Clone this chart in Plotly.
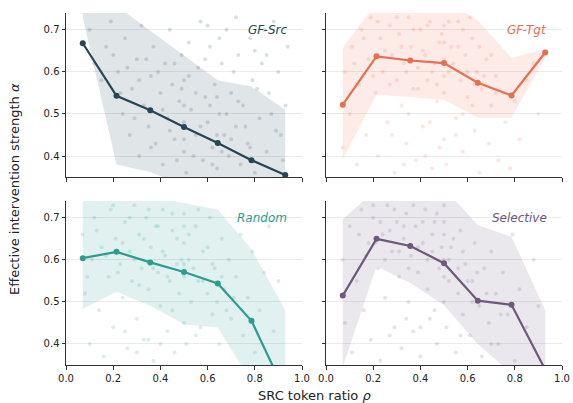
import plotly.graph_objects as go
from plotly.subplots import make_subplots

# ---------------- data ----------------
x_centers = [0.071, 0.214, 0.357, 0.5, 0.643, 0.786, 0.929]

methods = ["GF-Src", "GF-Tgt", "Random", "Selective"]
colors = ["#264653", "#e76f51", "#2a9d8f", "#6d597a"]

mean_gfsrc = [0.668, 0.543, 0.509, 0.469, 0.431, 0.390, 0.355]
hi_gfsrc = [0.80, 0.757, 0.698, 0.639, 0.580, 0.565, 0.510]
lo_gfsrc = [0.73, 0.380, 0.362, 0.330, 0.320, 0.300, 0.300]

mean_gftgt = [0.522, 0.637, 0.627, 0.621, 0.574, 0.544, 0.646]
hi_gftgt = [0.657, 0.765, 0.78, 0.77, 0.722, 0.633, 0.655]
lo_gftgt = [0.392, 0.546, 0.540, 0.534, 0.491, 0.491, 0.635]

mean_random = [0.604, 0.619, 0.594, 0.571, 0.544, 0.455, 0.285]
hi_random = [0.78, 0.78, 0.75, 0.735, 0.72, 0.625, 0.48]
lo_random = [0.483, 0.524, 0.491, 0.447, 0.439, 0.31, 0.25]

mean_selective = [0.515, 0.650, 0.633, 0.592, 0.503, 0.493, 0.339]
hi_selective = [0.696, 0.769, 0.80, 0.77, 0.683, 0.655, 0.48]
lo_selective = [0.345, 0.585, 0.545, 0.492, 0.40, 0.33, 0.30]

# background per-sample points
pts_gfsrc_x = [0.10, 0.12, 0.15, 0.17, 0.19, 0.22, 0.24, 0.25, 0.27, 0.28, 0.30, 0.31, 0.32, 0.33, 0.35, 0.36, 0.37, 0.38,
               0.40, 0.41, 0.42, 0.43, 0.44, 0.45, 0.46, 0.48, 0.49, 0.50, 0.50, 0.50, 0.51, 0.52, 0.53, 0.55, 0.56, 0.57,
               0.58, 0.59, 0.60, 0.61, 0.62, 0.63, 0.64, 0.65, 0.66, 0.67, 0.68, 0.69, 0.70, 0.72, 0.73, 0.74, 0.75, 0.77,
               0.78, 0.79, 0.80, 0.82, 0.83, 0.85, 0.86, 0.88, 0.89, 0.90, 0.92, 0.93, 0.94,
               0.20, 0.23, 0.26, 0.29, 0.31, 0.34, 0.36, 0.39, 0.41, 0.44, 0.46, 0.47, 0.49, 0.50, 0.50, 0.52, 0.54, 0.55,
               0.57, 0.59, 0.61, 0.62, 0.64, 0.64, 0.66, 0.68, 0.70, 0.71, 0.73, 0.76, 0.78, 0.81, 0.84, 0.87, 0.91, 0.60,
               0.65, 0.72, 0.80, 0.85]
pts_gfsrc_y = [0.70, 0.62, 0.58, 0.66, 0.72, 0.60, 0.50, 0.68, 0.45, 0.56, 0.63, 0.40, 0.71, 0.52, 0.47, 0.59, 0.66, 0.43,
               0.55, 0.38, 0.62, 0.49, 0.70, 0.57, 0.44, 0.53, 0.64, 0.41, 0.48, 0.58, 0.36, 0.67, 0.51, 0.45, 0.61, 0.72,
               0.39, 0.54, 0.48, 0.66, 0.42, 0.57, 0.37, 0.50, 0.62, 0.45, 0.70, 0.40, 0.55, 0.47, 0.64, 0.38, 0.52, 0.43,
               0.68, 0.58, 0.36, 0.49, 0.62, 0.41, 0.55, 0.72, 0.46, 0.60, 0.39, 0.52, 0.66,
               0.64, 0.55, 0.61, 0.49, 0.58, 0.63, 0.42, 0.60, 0.51, 0.46, 0.62, 0.39, 0.56, 0.44, 0.52, 0.59, 0.40, 0.55,
               0.47, 0.63, 0.52, 0.38, 0.45, 0.54, 0.41, 0.50, 0.44, 0.60, 0.53, 0.47, 0.42, 0.56, 0.70, 0.50, 0.45, 0.71,
               0.68, 0.73, 0.65, 0.64]

pts_gftgt_x = [0.07, 0.08, 0.10, 0.11, 0.13, 0.14, 0.15, 0.17, 0.18, 0.19, 0.21, 0.22, 0.23, 0.24, 0.26, 0.27, 0.28, 0.29,
               0.30, 0.31, 0.32, 0.33, 0.34, 0.35, 0.36, 0.37, 0.38, 0.39, 0.40, 0.41, 0.42, 0.43, 0.44, 0.45, 0.46, 0.47,
               0.48, 0.50, 0.50, 0.50, 0.50, 0.51, 0.52, 0.53, 0.55, 0.56, 0.57, 0.58, 0.59, 0.60, 0.62, 0.63, 0.64, 0.65,
               0.66, 0.68, 0.69, 0.70, 0.72, 0.73, 0.75, 0.76, 0.78, 0.80, 0.82, 0.85, 0.88, 0.90,
               0.12, 0.16, 0.20, 0.22, 0.25, 0.27, 0.30, 0.32, 0.34, 0.37, 0.39, 0.41, 0.43, 0.45, 0.47, 0.49, 0.50, 0.50,
               0.52, 0.54, 0.56, 0.58, 0.60, 0.61, 0.63, 0.65, 0.67, 0.70, 0.72, 0.28, 0.35, 0.42, 0.55, 0.62, 0.33, 0.44,
               0.48, 0.58]
pts_gftgt_y = [0.42, 0.60, 0.50, 0.66, 0.38, 0.57, 0.70, 0.45, 0.63, 0.73, 0.55, 0.40, 0.68, 0.60, 0.48, 0.71, 0.64, 0.36,
               0.58, 0.69, 0.52, 0.62, 0.43, 0.73, 0.66, 0.56, 0.39, 0.61, 0.70, 0.47, 0.64, 0.58, 0.72, 0.37, 0.62, 0.53,
               0.67, 0.44, 0.55, 0.63, 0.71, 0.38, 0.60, 0.66, 0.49, 0.72, 0.58, 0.41, 0.64, 0.54, 0.68, 0.46, 0.60, 0.36,
               0.56, 0.63, 0.43, 0.52, 0.59, 0.39, 0.55, 0.48, 0.37, 0.53, 0.44, 0.58, 0.62, 0.50,
               0.62, 0.68, 0.59, 0.72, 0.65, 0.57, 0.73, 0.66, 0.60, 0.70, 0.56, 0.65, 0.71, 0.60, 0.57, 0.69, 0.59, 0.67,
               0.72, 0.62, 0.66, 0.70, 0.60, 0.73, 0.57, 0.66, 0.59, 0.64, 0.55, 0.45, 0.50, 0.40, 0.45, 0.52, 0.38, 0.48,
               0.42, 0.50]

pts_random_x = [0.07, 0.08, 0.10, 0.11, 0.12, 0.14, 0.15, 0.16, 0.18, 0.19, 0.20, 0.21, 0.23, 0.24, 0.25, 0.26, 0.27, 0.28,
                0.29, 0.30, 0.31, 0.32, 0.33, 0.34, 0.35, 0.36, 0.37, 0.38, 0.39, 0.40, 0.41, 0.42, 0.43, 0.44, 0.45, 0.46,
                0.47, 0.48, 0.50, 0.50, 0.50, 0.50, 0.51, 0.52, 0.53, 0.55, 0.56, 0.57, 0.58, 0.60, 0.61, 0.62, 0.63, 0.65,
                0.66, 0.67, 0.69, 0.70, 0.72, 0.74, 0.75, 0.77, 0.79, 0.80, 0.82, 0.84, 0.86, 0.88, 0.90,
                0.09, 0.13, 0.17, 0.20, 0.22, 0.24, 0.27, 0.29, 0.31, 0.33, 0.35, 0.37, 0.39, 0.41, 0.43, 0.45, 0.47, 0.49,
                0.50, 0.50, 0.52, 0.54, 0.56, 0.58, 0.60, 0.62, 0.64, 0.66, 0.68, 0.71, 0.25, 0.35, 0.45, 0.55, 0.30, 0.40]
pts_random_y = [0.66, 0.52, 0.40, 0.60, 0.70, 0.48, 0.63, 0.37, 0.56, 0.72, 0.44, 0.65, 0.59, 0.51, 0.69, 0.39, 0.62, 0.55,
                0.73, 0.46, 0.66, 0.58, 0.41, 0.70, 0.53, 0.63, 0.36, 0.68, 0.57, 0.49, 0.72, 0.61, 0.43, 0.55, 0.67, 0.38,
                0.59, 0.52, 0.45, 0.56, 0.64, 0.71, 0.40, 0.60, 0.50, 0.68, 0.55, 0.44, 0.62, 0.52, 0.70, 0.47, 0.58, 0.40,
                0.65, 0.53, 0.60, 0.46, 0.56, 0.66, 0.42, 0.51, 0.62, 0.38, 0.48, 0.57, 0.68, 0.43, 0.55,
                0.56, 0.67, 0.61, 0.73, 0.57, 0.64, 0.70, 0.60, 0.54, 0.65, 0.72, 0.58, 0.68, 0.62, 0.56, 0.71, 0.65, 0.60,
                0.59, 0.68, 0.66, 0.58, 0.72, 0.55, 0.63, 0.59, 0.50, 0.56, 0.48, 0.51, 0.43, 0.41, 0.48, 0.42, 0.38, 0.40]

pts_selective_x = [0.07, 0.08, 0.10, 0.11, 0.13, 0.15, 0.16, 0.18, 0.19, 0.20, 0.22, 0.23, 0.24, 0.25, 0.26, 0.28, 0.29,
                   0.30, 0.31, 0.32, 0.33, 0.34, 0.35, 0.36, 0.37, 0.38, 0.39, 0.40, 0.41, 0.42, 0.43, 0.44, 0.45, 0.46,
                   0.47, 0.48, 0.50, 0.50, 0.50, 0.50, 0.51, 0.52, 0.53, 0.55, 0.56, 0.57, 0.58, 0.59, 0.61, 0.62, 0.63,
                   0.65, 0.66, 0.67, 0.69, 0.70, 0.72, 0.73, 0.75, 0.77, 0.79, 0.80, 0.82, 0.85, 0.88, 0.90,
                   0.14, 0.17, 0.20, 0.21, 0.23, 0.25, 0.27, 0.29, 0.31, 0.33, 0.35, 0.37, 0.39, 0.41, 0.43, 0.45, 0.47,
                   0.49, 0.50, 0.50, 0.52, 0.54, 0.56, 0.58, 0.60, 0.62, 0.64, 0.68, 0.27, 0.34, 0.40, 0.46, 0.57, 0.70,
                   0.74]
pts_selective_y = [0.60, 0.45, 0.68, 0.38, 0.55, 0.72, 0.48, 0.64, 0.41, 0.70, 0.58, 0.36, 0.66, 0.51, 0.73, 0.62, 0.44,
                   0.69, 0.56, 0.39, 0.65, 0.71, 0.50, 0.61, 0.43, 0.68, 0.57, 0.37, 0.64, 0.72, 0.53, 0.46, 0.62, 0.69,
                   0.40, 0.58, 0.50, 0.60, 0.66, 0.73, 0.44, 0.55, 0.63, 0.38, 0.52, 0.67, 0.47, 0.59, 0.42, 0.55, 0.64,
                   0.49, 0.37, 0.58, 0.45, 0.62, 0.52, 0.40, 0.57, 0.47, 0.66, 0.36, 0.53, 0.44, 0.60, 0.49,
                   0.66, 0.61, 0.73, 0.64, 0.69, 0.60, 0.67, 0.72, 0.62, 0.68, 0.58, 0.73, 0.63, 0.69, 0.60, 0.66, 0.71,
                   0.63, 0.56, 0.69, 0.60, 0.65, 0.58, 0.62, 0.55, 0.50, 0.57, 0.52, 0.42, 0.46, 0.44, 0.48, 0.42, 0.40,
                   0.47]

y_ticks = [0.4, 0.5, 0.6, 0.7]
x_ticks = [0.0, 0.2, 0.4, 0.6, 0.8, 1.0]

panels = [
    (methods[0], colors[0], mean_gfsrc, hi_gfsrc, lo_gfsrc, pts_gfsrc_x, pts_gfsrc_y, 1, 1),
    (methods[1], colors[1], mean_gftgt, hi_gftgt, lo_gftgt, pts_gftgt_x, pts_gftgt_y, 1, 2),
    (methods[2], colors[2], mean_random, hi_random, lo_random, pts_random_x, pts_random_y, 2, 1),
    (methods[3], colors[3], mean_selective, hi_selective, lo_selective, pts_selective_x, pts_selective_y, 2, 2),
]


def rgba(hex_color, a):
    h = hex_color.lstrip("#")
    r, g, b = int(h[0:2], 16), int(h[2:4], 16), int(h[4:6], 16)
    return f"rgba({r},{g},{b},{a})"


fig = make_subplots(rows=2, cols=2, shared_xaxes=True, shared_yaxes=True,
                    horizontal_spacing=0.048, vertical_spacing=0.068)

for name, col, mean, hi, lo, px, py, r, c in panels:
    fig.add_trace(go.Scatter(x=px, y=py, mode="markers",
                             marker=dict(size=4, color=rgba(col, 0.17), line=dict(width=0)),
                             showlegend=False, hoverinfo="skip"), row=r, col=c)
    fig.add_trace(go.Scatter(x=x_centers + x_centers[::-1], y=hi + lo[::-1],
                             mode="lines", fill="toself", fillcolor=rgba(col, 0.14),
                             line=dict(width=0), showlegend=False, hoverinfo="skip"), row=r, col=c)
    fig.add_trace(go.Scatter(x=x_centers, y=mean, mode="lines+markers",
                             line=dict(color=col, width=2.2), marker=dict(size=6, color=col),
                             showlegend=False, name=name), row=r, col=c)
    xref = "x" if (r, c) == (1, 1) else f"x{(r - 1) * 2 + c}"
    yref = "y" if (r, c) == (1, 1) else f"y{(r - 1) * 2 + c}"
    fig.add_annotation(x=0.945, y=0.70, xref=xref, yref=yref, text=f"<i>{name}</i>",
                       showarrow=False, xanchor="right", yanchor="middle",
                       font=dict(size=12, color=col))

axis_common = dict(showline=True, linecolor="#333333", linewidth=1, ticks="outside",
                   ticklen=3.5, tickwidth=1, tickcolor="#333333", mirror=False, zeroline=False,
                   tickfont=dict(size=10, color="#222222"))

for i in range(1, 5):
    xa = "xaxis" if i == 1 else f"xaxis{i}"
    ya = "yaxis" if i == 1 else f"yaxis{i}"
    fig.layout[xa].update(range=[0, 1], tickvals=x_ticks, ticktext=[f"{v:.1f}" for v in x_ticks],
                          showgrid=False, automargin=False, **axis_common)
    fig.layout[ya].update(range=[0.35, 0.74], tickvals=y_ticks, ticktext=[f"{v:.1f}" for v in y_ticks],
                          showgrid=True, gridcolor="#ebebeb", gridwidth=0.8, automargin=False, **axis_common)

fig.layout.xaxis.domain = [0, 0.4758]
fig.layout.xaxis3.domain = [0, 0.4758]
fig.layout.xaxis2.domain = [0.5242, 1]
fig.layout.xaxis4.domain = [0.5242, 1]
fig.layout.yaxis.domain = [0.534, 1]
fig.layout.yaxis2.domain = [0.534, 1]
fig.layout.yaxis3.domain = [0, 0.466]
fig.layout.yaxis4.domain = [0, 0.466]

fig.layout.xaxis.showticklabels = False
fig.layout.xaxis2.showticklabels = False
fig.layout.xaxis3.showticklabels = True
fig.layout.xaxis4.showticklabels = True
fig.layout.yaxis2.showticklabels = False
fig.layout.yaxis4.showticklabels = False

fig.add_annotation(text="Effective intervention strength <i>α</i>", xref="paper", yref="paper",
                   x=0, y=0.5, xshift=-52, textangle=-90, showarrow=False,
                   xanchor="center", yanchor="middle", font=dict(size=13, color="#222222"))
fig.add_annotation(text="SRC token ratio <i>ρ</i>", xref="paper", yref="paper",
                   x=0.5, y=0, yshift=-30, showarrow=False,
                   xanchor="center", yanchor="middle", font=dict(size=13, color="#222222"))

fig.update_layout(width=573, height=403, margin=dict(l=66, r=11, t=13, b=38),
                  plot_bgcolor="white", paper_bgcolor="white", hovermode=False,
                  font=dict(family="DejaVu Sans", color="#222222"))

fig.write_html("out.html", config={"displayModeBar": False},
               post_script="document.body.style.margin='0';document.body.style.overflow='hidden';")
